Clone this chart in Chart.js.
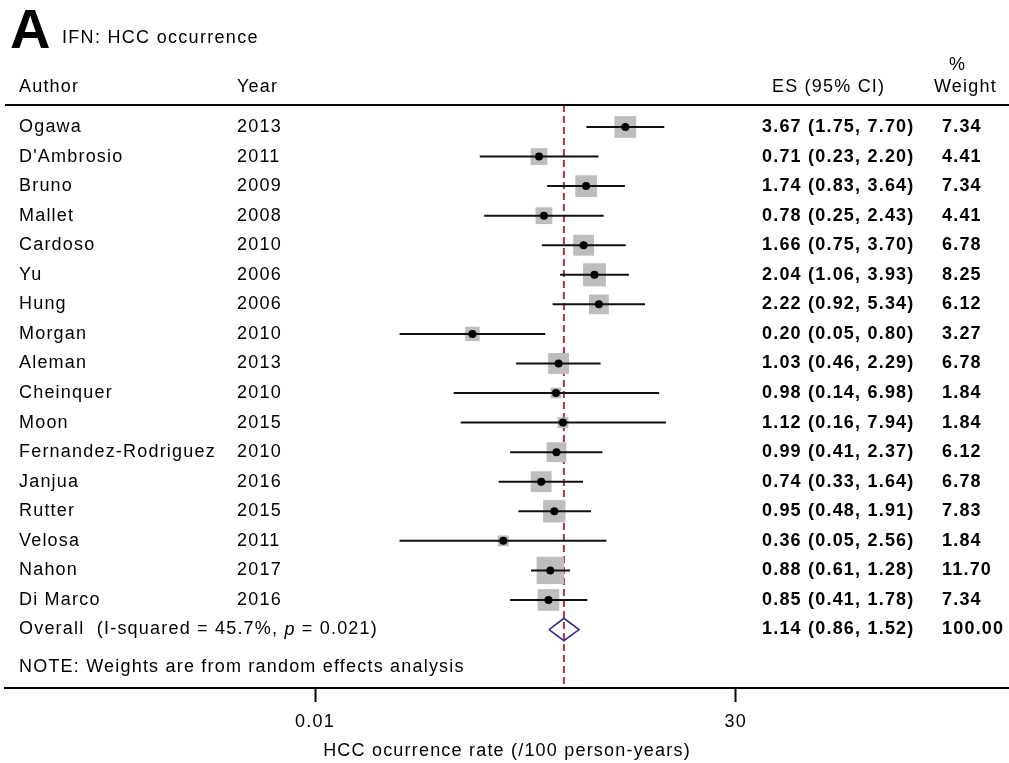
<!DOCTYPE html>
<html>
<head>
  <meta charset="utf-8">
  <title>IFN: HCC occurrence</title>
  <script src="https://cdn.jsdelivr.net/npm/chart.js"></script>
  <style>
    body { margin: 0; background: #fff; }
    #wrap { width: 1009px; height: 763px; }
  </style>
</head>
<body>
  <div id="wrap"><canvas id="forest" width="1009" height="763"></canvas></div>

  <script>
    // ------------------- DATA --------------------
    const authors = ['Ogawa', "D'Ambrosio", 'Bruno', 'Mallet', 'Cardoso', 'Yu', 'Hung', 'Morgan', 'Aleman',
                     'Cheinquer', 'Moon', 'Fernandez-Rodriguez', 'Janjua', 'Rutter', 'Velosa', 'Nahon', 'Di Marco'];
    const years   = [2013, 2011, 2009, 2008, 2010, 2006, 2006, 2010, 2013, 2010, 2015, 2010, 2016, 2015, 2011, 2017, 2016];
    const es      = [3.67, 0.71, 1.74, 0.78, 1.66, 2.04, 2.22, 0.20, 1.03, 0.98, 1.12, 0.99, 0.74, 0.95, 0.36, 0.88, 0.85];
    const ciLow   = [1.75, 0.23, 0.83, 0.25, 0.75, 1.06, 0.92, 0.05, 0.46, 0.14, 0.16, 0.41, 0.33, 0.48, 0.05, 0.61, 0.41];
    const ciHigh  = [7.70, 2.20, 3.64, 2.43, 3.70, 3.93, 5.34, 0.80, 2.29, 6.98, 7.94, 2.37, 1.64, 1.91, 2.56, 1.28, 1.78];
    const weights = [7.34, 4.41, 7.34, 4.41, 6.78, 8.25, 6.12, 3.27, 6.78, 1.84, 1.84, 6.12, 6.78, 7.83, 1.84, 11.70, 7.34];

    const overallES = 1.14, overallLow = 0.86, overallHigh = 1.52, overallWeight = 100;
    const overallLabel = ['Overall  (I-squared = 45.7%, ', 'p', ' = 0.021)'];
    const noteText = 'NOTE: Weights are from random effects analysis';
    const xTicks = [0.01, 30];
    const xTitle = 'HCC ocurrence rate (/100 person-years)';

    // ------------------- LAYOUT --------------------
    const FAMILY = '"Liberation Sans", Arial, sans-serif';
    const TOP = 105, AXIS_Y = 688, ROW0 = 127, ROWH = 29.56;
    const X_LEFT = 5, X_ONE = 557, PX_DEC = 121;
    const xMin = Math.pow(10, -(X_ONE - X_LEFT) / PX_DEC);
    const xMax = Math.pow(10, (1009 - X_ONE) / PX_DEC);
    const yMin = -(ROW0 - TOP) / ROWH;
    const yMax = (AXIS_Y - ROW0) / ROWH;
    const overallRow = authors.length;
    const fmt = v => v.toFixed(2);

    // ------------------- DATASETS --------------------
    const datasets = [];

    // centre dots
    datasets.push({
      data: es.map((v, i) => ({ x: v, y: i })),
      pointStyle: 'circle', pointRadius: 4, pointBackgroundColor: '#000', pointBorderWidth: 0,
      order: 0
    });

    // confidence interval lines
    es.forEach((v, i) => {
      datasets.push({
        data: [{ x: ciLow[i], y: i }, { x: ciHigh[i], y: i }],
        showLine: true, borderColor: '#111', borderWidth: 2, pointRadius: 0,
        order: 1
      });
    });

    // overall diamond
    const dh = 0.38;
    datasets.push({
      data: [
        { x: overallLow, y: overallRow }, { x: overallES, y: overallRow - dh },
        { x: overallHigh, y: overallRow }, { x: overallES, y: overallRow + dh },
        { x: overallLow, y: overallRow }
      ],
      showLine: true, borderColor: '#2e2e8c', borderWidth: 1.6, pointRadius: 0, borderJoinStyle: 'miter',
      order: 1
    });

    // weight boxes (area ~ weight)
    datasets.push({
      data: es.map((v, i) => ({ x: v, y: i })),
      pointStyle: 'rect',
      pointRadius: c => 8 * Math.sqrt(weights[c.dataIndex]) / Math.SQRT2,
      pointBackgroundColor: '#bdbdbd', pointBorderWidth: 0,
      order: 2
    });

    // reference line at overall estimate
    datasets.push({
      data: [{ x: overallES, y: yMin }, { x: overallES, y: yMax }],
      showLine: true, borderColor: '#a8343f', borderWidth: 2, borderDash: [7, 4], pointRadius: 0,
      order: 3
    });

    // ------------------- TEXT PLUGIN --------------------
    const textPlugin = {
      id: 'forestText',
      beforeDraw(chart) {
        chart.ctx.letterSpacing = '1.2px';
      },
      afterDraw(chart) {
        const ctx = chart.ctx;
        const py = chart.scales.y;
        const area = chart.chartArea;
        ctx.save();
        ctx.fillStyle = '#000';
        ctx.textAlign = 'left';

        // panel letter + subtitle
        ctx.textBaseline = 'alphabetic';
        ctx.letterSpacing = '0px';
        ctx.font = 'bold 56px ' + FAMILY;
        ctx.fillText('A', 10, 48);
        ctx.letterSpacing = '1.3px';
        ctx.font = '18px ' + FAMILY;
        ctx.fillText('IFN: HCC occurrence', 62, 43);

        ctx.letterSpacing = '1.2px';
        ctx.textBaseline = 'middle';

        // headers
        const hy = py.getPixelForValue(-1.336);
        ctx.fillText('Author', 19, hy);
        ctx.fillText('Year', 237, hy);
        ctx.fillText('ES (95% CI)', 772, hy);
        ctx.fillText('Weight', 934, hy);
        ctx.fillText('%', 949, py.getPixelForValue(-2.1));

        // header rule
        ctx.strokeStyle = '#000';
        ctx.lineWidth = 2;
        ctx.beginPath();
        ctx.moveTo(area.left, TOP);
        ctx.lineTo(area.right, TOP);
        ctx.stroke();

        // study rows
        authors.forEach((a, i) => {
          const y = py.getPixelForValue(i);
          ctx.font = '18px ' + FAMILY;
          ctx.fillText(a, 19, y);
          ctx.fillText(String(years[i]), 237, y);
          ctx.font = 'bold 18px ' + FAMILY;
          ctx.fillText(fmt(es[i]) + ' (' + fmt(ciLow[i]) + ', ' + fmt(ciHigh[i]) + ')', 762, y);
          ctx.fillText(fmt(weights[i]), 942, y);
        });

        // overall row
        const oy = py.getPixelForValue(overallRow);
        let x = 19;
        ctx.font = '18px ' + FAMILY;
        ctx.fillText(overallLabel[0], x, oy);
        x += ctx.measureText(overallLabel[0]).width;
        ctx.font = 'italic 18px ' + FAMILY;
        ctx.fillText(overallLabel[1], x, oy);
        x += ctx.measureText(overallLabel[1]).width;
        ctx.font = '18px ' + FAMILY;
        ctx.fillText(overallLabel[2], x, oy);
        ctx.font = 'bold 18px ' + FAMILY;
        ctx.fillText(fmt(overallES) + ' (' + fmt(overallLow) + ', ' + fmt(overallHigh) + ')', 762, oy);
        ctx.fillText(fmt(overallWeight), 942, oy);

        // note
        ctx.font = '18px ' + FAMILY;
        ctx.fillText(noteText, 19, py.getPixelForValue(18.27));

        ctx.restore();
      }
    };

    // ------------------- CHART --------------------
    Chart.defaults.font.family = FAMILY;
    Chart.defaults.color = '#000';

    new Chart(document.getElementById('forest'), {
      type: 'scatter',
      data: { datasets },
      options: {
        responsive: false,
        animation: false,
        devicePixelRatio: 1,
        layout: { autoPadding: false, padding: { top: TOP, left: X_LEFT, right: 0, bottom: 0 } },
        plugins: { legend: { display: false }, tooltip: { enabled: false } },
        scales: {
          x: {
            type: 'logarithmic',
            min: xMin,
            max: xMax,
            afterBuildTicks: s => { s.ticks = xTicks.map(v => ({ value: v })); },
            afterFit: s => {
              s.height = 763 - AXIS_Y;
              s.paddingLeft = 0;
              s.paddingRight = 0;
            },
            grid: { drawOnChartArea: false, drawTicks: true, tickLength: 14, tickWidth: 2, tickColor: '#000' },
            border: { display: true, color: '#000', width: 2 },
            ticks: {
              autoSkip: false, maxRotation: 0, padding: 9, color: '#000',
              font: { size: 18 },
              callback: v => String(v)
            },
            title: { display: true, text: xTitle, color: '#000', font: { size: 18 }, padding: { top: 0, bottom: 1 } }
          },
          y: {
            type: 'linear',
            reverse: true,
            min: yMin,
            max: yMax,
            display: false
          }
        }
      },
      plugins: [textPlugin]
    });
  </script>
</body>
</html>
